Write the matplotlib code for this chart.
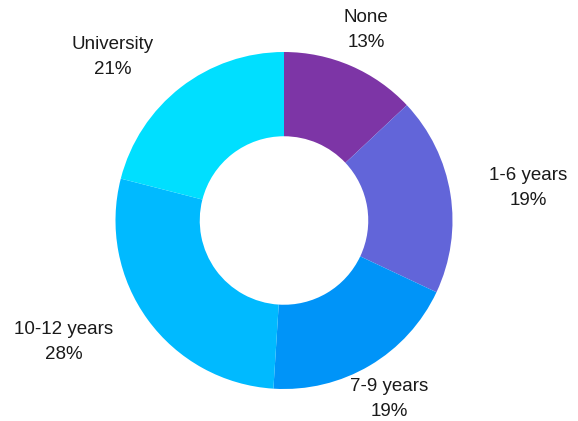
import matplotlib
matplotlib.use('Agg')
import matplotlib.pyplot as plt
import numpy as np

# education level shares (%)
categories = ['None', '1-6 years', '7-9 years', '10-12 years', 'University']
shares = [13, 19, 19, 28, 21]
colors = ['#7D35A6', '#6265D9', '#0094F8', '#00BAFF', '#00DFFF']

plt.rcParams['font.family'] = ['Liberation Sans', 'DejaVu Sans']

W, H = 578, 421
cx, cy, R = 284, 220.5, 168.5

fig = plt.figure(figsize=(W / 100, H / 100), dpi=100)
ax = fig.add_axes([0, 0, 1, 1])

wedges, _ = ax.pie(shares, colors=colors, startangle=90, counterclock=False,
                   radius=1, wedgeprops=dict(width=0.5, linewidth=0))

# pie() resets the limits, so set them afterwards
ax.set_xlim(-cx / R, (W - cx) / R)
ax.set_ylim(-(H - cy) / R, cy / R)
ax.axis('off')

# labels placed just outside the ring, aligned by side
for w, cat, val in zip(wedges, categories, shares):
    ang = np.deg2rad((w.theta1 + w.theta2) / 2)
    x, y = 1.23 * np.cos(ang), 1.23 * np.sin(ang)
    if abs(np.cos(ang)) < 0.55:
        ha = 'center'
    elif np.cos(ang) > 0:
        ha = 'left'
    else:
        ha = 'right'
        x -= 0.02
    ax.text(x, y, f'{cat}\n{val}%', ha=ha, va='center', fontsize=13.5,
            color='#1a1a1a', linespacing=1.62, multialignment='center')

fig.savefig('out.png', dpi=100)
